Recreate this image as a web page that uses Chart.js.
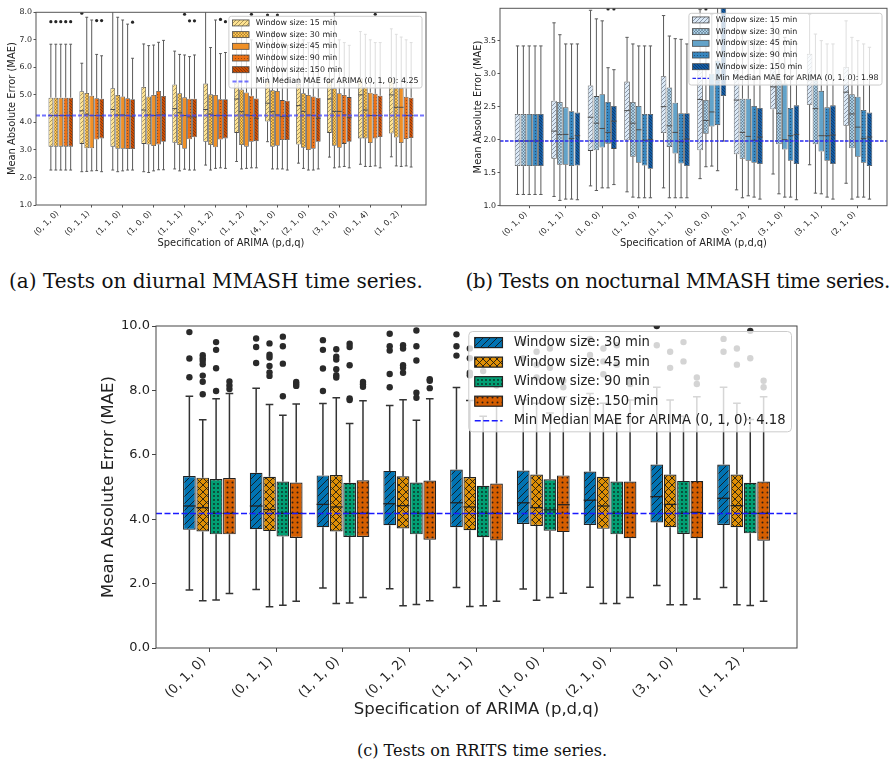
<!DOCTYPE html>
<html>
<head>
<meta charset="utf-8">
<script src="https://cdn.jsdelivr.net/npm/chart.js@4.4.1/dist/chart.umd.min.js"></script>
<style>
	body { margin: 0; background: #fff; width: 892px; height: 765px; position: relative; overflow: hidden; }
	canvas { position: absolute; }
	.caption { position: absolute; font-family: "DejaVu Serif", serif; font-size: 20px; line-height: 1; color: #111; white-space: nowrap; }
</style>
</head>
<body>
<canvas id="diurnalChart" width="450" height="249" style="left:0;top:0"></canvas>
<canvas id="nocturnalChart" width="442" height="249" style="left:450px;top:0"></canvas>
<canvas id="rritsChart" width="892" height="410" style="left:0;top:310px"></canvas>
<div class="caption" style="left:216px;top:271px;transform:translateX(-50%)">(a) Tests on diurnal MMASH time series.</div>
<div class="caption" style="right:2px;top:271px;letter-spacing:-0.37px">(b) Tests on nocturnal MMASH time series.</div>
<div class="caption" style="left:482px;top:743px;font-size:16px;transform:translateX(-50%)">(c) Tests on RRITS time series.</div>
<script>
// (a) diurnal MMASH: rows = ARIMA spec, columns = window size
const diurnalSpecs = ["(0, 1, 0)", "(0, 1, 1)", "(1, 1, 0)", "(1, 0, 0)", "(1, 1, 1)", "(0, 1, 2)", "(1, 1, 2)", "(4, 1, 0)", "(2, 1, 0)", "(3, 1, 0)", "(0, 1, 4)", "(1, 0, 2)"];
const diurnalWindows = ["15 min", "30 min", "45 min", "90 min", "150 min"];
const diurnalQ1 = [
	[3.12, 3.12, 3.12, 3.12, 3.12],
	[3.22, 3.06, 3.06, 3.38, 3.42],
	[3.12, 3.04, 3.04, 3.03, 3.03],
	[3.22, 3.2, 3.14, 3.2, 3.3],
	[3.26, 3.18, 3.04, 3.39, 3.46],
	[3.3, 3.18, 3.1, 3.38, 3.42],
	[3.62, 3.18, 3.12, 3.3, 3.32],
	[4.03, 3.12, 3.15, 3.36, 3.36],
	[3.2, 3.08, 3.0, 3.04, 3.3],
	[3.62, 3.15, 3.08, 3.22, 3.3],
	[3.42, 3.42, 3.25, 3.42, 3.47],
	[3.6, 3.45, 3.25, 3.4, 3.43],
];
const diurnalMedian = [
	[4.25, 4.25, 4.25, 4.25, 4.25],
	[4.42, 4.3, 4.25, 4.25, 4.25],
	[4.47, 4.27, 4.27, 4.25, 4.23],
	[4.45, 4.27, 4.25, 4.27, 4.27],
	[4.5, 4.35, 4.25, 4.2, 4.2],
	[4.47, 4.3, 4.25, 4.25, 4.25],
	[4.85, 4.39, 4.27, 4.25, 4.15],
	[4.7, 4.39, 4.27, 4.21, 4.23],
	[4.61, 4.4, 4.27, 4.25, 4.15],
	[4.85, 4.4, 4.4, 4.27, 4.17],
	[5.0, 4.45, 4.25, 4.25, 4.25],
	[5.0, 4.55, 4.55, 4.25, 4.25],
];
const diurnalQ3 = [
	[4.9, 4.9, 4.9, 4.9, 4.9],
	[5.13, 5.07, 4.97, 4.88, 4.86],
	[5.24, 5.0, 4.94, 4.88, 4.84],
	[5.29, 4.94, 5.0, 5.14, 4.96],
	[5.38, 5.06, 4.91, 4.86, 4.86],
	[5.41, 5.02, 5.0, 4.84, 4.84],
	[5.45, 5.2, 5.09, 4.97, 4.87],
	[5.5, 5.17, 5.14, 4.81, 4.79],
	[5.4, 5.06, 5.0, 4.94, 4.9],
	[5.5, 5.24, 5.06, 5.0, 4.92],
	[5.6, 5.3, 5.08, 5.04, 4.97],
	[5.6, 5.25, 5.25, 4.93, 4.9],
];
const diurnalLow = [
	[2.27, 2.27, 2.27, 2.27, 2.27],
	[2.21, 2.22, 2.24, 2.25, 2.21],
	[2.27, 2.21, 2.24, 2.27, 2.27],
	[2.21, 2.18, 2.24, 2.28, 2.28],
	[2.31, 2.24, 2.3, 2.27, 2.27],
	[2.45, 2.27, 2.33, 2.35, 2.33],
	[2.58, 2.31, 2.33, 2.35, 2.35],
	[3.3, 2.31, 2.31, 2.31, 2.27],
	[2.52, 2.33, 2.27, 2.27, 2.31],
	[2.74, 2.35, 2.38, 2.4, 2.35],
	[2.48, 2.4, 2.4, 2.42, 2.35],
	[2.75, 2.42, 2.4, 2.42, 2.38],
];
const diurnalHigh = [
	[6.84, 6.84, 6.84, 6.84, 6.84],
	[6.15, 7.82, 7.72, 6.47, 6.42],
	[8.3, 7.82, 7.72, 7.57, 6.33],
	[6.85, 6.79, 6.81, 6.91, 6.98],
	[6.59, 6.47, 6.45, 6.39, 6.45],
	[8.3, 6.72, 7.72, 6.5, 6.54],
	[7.3, 7.5, 7.1, 7.0, 6.9],
	[7.0, 7.3, 7.2, 6.9, 6.8],
	[7.2, 7.0, 6.9, 6.8, 6.7],
	[7.2, 7.98, 7.0, 6.9, 6.8],
	[7.3, 7.2, 7.0, 6.9, 6.9],
	[7.4, 7.2, 7.1, 7.0, 6.9],
];
const diurnalOutliers = [
	[[7.66], [7.66], [7.66], [7.66], [7.66]],
	[[7.97], [], [], [7.7], [7.7]],
	[[], [], [], [], [7.64]],
	[[], [], [], [], []],
	[[], [], [7.93], [7.69], [7.69]],
	[[], [], [], [7.74], [7.66]],
	[[], [], [], [7.93], []],
	[[7.9], [], [7.9], [], []],
	[[], [], [], [], []],
	[[], [], [], [], []],
	[[], [], [], [7.93], []],
	[[], [], [], [], []],
];
const diurnalMinMedian = 4.25;

// (b) nocturnal MMASH
const nocturnalSpecs = ["(0, 1, 0)", "(0, 1, 1)", "(1, 0, 0)", "(1, 1, 0)", "(1, 1, 1)", "(0, 0, 0)", "(0, 1, 2)", "(3, 1, 0)", "(3, 1, 1)", "(2, 1, 0)"];
const nocturnalWindows = ["15 min", "30 min", "45 min", "90 min", "150 min"];
const nocturnalQ1 = [
	[1.6, 1.6, 1.6, 1.6, 1.6],
	[1.71, 1.62, 1.62, 1.6, 1.61],
	[1.83, 1.84, 1.88, 1.94, 1.86],
	[1.99, 1.74, 1.65, 1.61, 1.56],
	[2.1, 1.89, 1.79, 1.64, 1.6],
	[1.84, 2.09, 2.2, 2.22, 2.66],
	[1.78, 1.71, 1.68, 1.65, 1.63],
	[2.46, 1.93, 1.85, 1.68, 1.63],
	[2.53, 1.93, 1.82, 1.68, 1.63],
	[2.21, 1.87, 1.74, 1.65, 1.6],
];
const nocturnalMedian = [
	[1.98, 1.98, 1.98, 1.98, 1.98],
	[2.13, 2.08, 2.08, 2.02, 2.06],
	[2.34, 2.25, 2.17, 2.11, 2.28],
	[2.44, 2.25, 2.15, 1.99, 2.0],
	[2.5, 2.21, 2.11, 1.97, 2.01],
	[2.61, 2.29, 2.42, 2.9, 3.3],
	[2.6, 2.11, 2.05, 1.99, 2.04],
	[2.8, 2.4, 2.0, 2.06, 2.08],
	[2.9, 2.47, 2.06, 2.06, 2.07],
	[2.72, 2.39, 2.19, 2.02, 2.04],
];
const nocturnalQ3 = [
	[2.39, 2.39, 2.39, 2.39, 2.39],
	[2.59, 2.57, 2.49, 2.43, 2.41],
	[2.82, 2.66, 2.69, 2.57, 2.51],
	[2.88, 2.57, 2.51, 2.39, 2.39],
	[2.96, 2.79, 2.56, 2.4, 2.4],
	[3.15, 2.6, 3.0, 3.2, 4.3],
	[3.05, 2.62, 2.62, 2.51, 2.48],
	[3.1, 2.9, 2.85, 2.48, 2.52],
	[3.3, 2.9, 2.74, 2.49, 2.52],
	[3.1, 2.69, 2.65, 2.45, 2.41],
];
const nocturnalLow = [
	[1.17, 1.17, 1.17, 1.17, 1.17],
	[1.14, 1.08, 1.1, 1.1, 1.09],
	[1.3, 1.23, 1.27, 1.27, 1.32],
	[1.21, 1.13, 1.12, 1.12, 1.12],
	[1.27, 1.12, 1.12, 1.12, 1.12],
	[1.41, 1.59, 1.6, 1.53, 1.98],
	[1.24, 1.12, 1.15, 1.13, 1.1],
	[1.48, 1.18, 1.13, 1.13, 1.09],
	[1.62, 1.19, 1.18, 1.13, 1.1],
	[1.34, 1.1, 1.13, 1.13, 1.1],
];
const nocturnalHigh = [
	[3.42, 3.42, 3.42, 3.42, 3.42],
	[3.77, 3.59, 3.45, 3.45, 3.45],
	[3.96, 3.83, 3.8, 3.09, 3.06],
	[3.55, 3.45, 3.42, 3.42, 3.42],
	[3.88, 3.57, 3.53, 3.52, 3.45],
	[3.97, 3.5, 3.9, 4.3, 4.5],
	[3.8, 3.6, 3.5, 3.5, 3.45],
	[3.8, 3.6, 3.55, 3.45, 3.45],
	[3.9, 3.6, 3.5, 3.45, 3.45],
	[3.8, 3.55, 3.5, 3.45, 3.4],
];
const nocturnalOutliers = [
	[[], [], [], [], []],
	[[], [], [], [], []],
	[[], [], [], [3.98], [3.98]],
	[[], [], [], [], []],
	[[], [], [], [], []],
	[[], [3.98], [], [], []],
	[[], [], [], [], []],
	[[], [], [], [], []],
	[[], [], [], [], []],
	[[], [], [], [], []],
];
const nocturnalMinMedian = 1.98;

// (c) RRITS
const rritsSpecs = ["(0, 1, 0)", "(0, 1, 1)", "(1, 1, 0)", "(0, 1, 2)", "(1, 1, 1)", "(1, 0, 0)", "(2, 1, 0)", "(3, 1, 0)", "(1, 1, 2)"];
const rritsWindows = ["30 min", "45 min", "90 min", "150 min"];
const rritsQ1 = [
	[3.67, 3.62, 3.53, 3.53],
	[3.69, 3.63, 3.46, 3.42],
	[3.75, 3.62, 3.45, 3.45],
	[3.81, 3.71, 3.53, 3.36],
	[3.75, 3.66, 3.44, 3.34],
	[3.85, 3.79, 3.64, 3.6],
	[3.82, 3.7, 3.53, 3.41],
	[3.9, 3.75, 3.54, 3.41],
	[3.82, 3.75, 3.56, 3.33],
];
const rritsMedian = [
	[4.41, 4.36, 4.18, 4.18],
	[4.41, 4.3, 4.18, 4.18],
	[4.46, 4.38, 4.18, 4.18],
	[4.48, 4.42, 4.18, 4.18],
	[4.51, 4.38, 4.18, 4.18],
	[4.51, 4.36, 4.29, 4.45],
	[4.59, 4.41, 4.18, 4.18],
	[4.7, 4.46, 4.18, 4.21],
	[4.65, 4.42, 4.18, 4.18],
];
const rritsQ3 = [
	[5.34, 5.29, 5.25, 5.28],
	[5.44, 5.32, 5.17, 5.14],
	[5.36, 5.37, 5.13, 5.21],
	[5.5, 5.33, 5.14, 5.2],
	[5.54, 5.31, 5.04, 5.11],
	[5.51, 5.39, 5.24, 5.36],
	[5.48, 5.32, 5.17, 5.17],
	[5.7, 5.39, 5.19, 5.19],
	[5.7, 5.39, 5.13, 5.17],
];
const rritsLow = [
	[1.8, 1.47, 1.49, 1.69],
	[1.82, 1.28, 1.33, 1.45],
	[1.86, 1.38, 1.4, 1.57],
	[1.84, 1.31, 1.35, 1.47],
	[1.88, 1.29, 1.31, 1.45],
	[1.83, 1.48, 1.57, 1.7],
	[1.89, 1.38, 1.38, 1.57],
	[1.94, 1.34, 1.34, 1.52],
	[1.88, 1.34, 1.32, 1.45],
];
const rritsHigh = [
	[7.82, 7.09, 7.74, 7.9],
	[8.07, 7.56, 7.23, 7.58],
	[7.59, 7.77, 6.97, 7.68],
	[7.53, 7.71, 7.07, 7.74],
	[8.09, 7.69, 7.2, 7.6],
	[7.7, 7.6, 7.3, 7.8],
	[7.9, 7.6, 7.1, 7.7],
	[8.1, 7.7, 7.2, 7.8],
	[8.1, 7.6, 7.1, 7.8],
];
const rritsOutliers = [
	[[9.81, 8.99, 8.41], [9.09, 9.0, 8.92, 8.81, 8.46, 8.27, 7.88], [9.5, 9.26, 8.69, 7.98], [8.28, 8.15, 8.04]],
	[[9.61, 9.35, 8.85], [9.46, 9.11, 9.02, 8.76, 8.56, 8.45], [9.67, 9.37, 8.83, 7.82], [8.26, 8.2, 8.14]],
	[[9.56, 9.26, 8.68, 7.98], [9.28, 9.05, 8.96, 8.66, 8.47, 8.4], [9.45, 9.35, 8.78, 7.75, 7.7], [8.26, 8.19, 8.11]],
	[[9.76, 9.37, 9.24, 8.51, 8.1], [9.4, 9.3, 8.78, 8.7, 8.55], [9.86, 9.37, 8.93, 7.93, 7.77], [8.35, 8.3, 8.07]],
	[[9.74, 9.37, 9.08], [9.3, 9.0, 8.55, 8.47], [9.4, 8.9, 8.6], [8.25, 8.15]],
	[[9.5, 9.0], [9.2, 8.8, 8.4], [9.3, 8.7], [8.3, 8.1]],
	[[9.6, 9.1], [9.3, 8.9, 8.5], [9.4, 8.8], [8.3, 8.2]],
	[[10.0, 9.4], [9.2, 8.7], [9.5, 8.9], [8.4, 8.2]],
	[[9.6, 9.2], [9.3, 8.8], [9.85, 9.0], [8.3, 8.1]],
];
const rritsMinMedian = 4.18;

Chart.defaults.font.family = "DejaVu Sans";

function makePattern(color, hatch, ink) {
	const s = hatch.size;
	const c = document.createElement("canvas");
	c.width = s;
	c.height = s;
	const g = c.getContext("2d");
	g.fillStyle = color;
	g.fillRect(0, 0, s, s);
	g.strokeStyle = ink;
	g.fillStyle = ink;
	g.lineWidth = hatch.lw;
	const diag = (up) => {
		g.beginPath();
		for (const o of [-s, 0, s]) {
			if (up) {
				g.moveTo(o, s);
				g.lineTo(o + s, 0);
			} else {
				g.moveTo(o, 0);
				g.lineTo(o + s, s);
			}
		}
		g.stroke();
	};
	if (hatch.type === "/" || hatch.type === "x") diag(true);
	if (hatch.type === "\\" || hatch.type === "x") diag(false);
	if (hatch.type === ".") {
		g.beginPath();
		g.arc(s / 2, s / 2, hatch.lw, 0, Math.PI * 2);
		g.fill();
	}
	return g.createPattern(c, "repeat");
}

function drawLegend(chart, p) {
	const { ctx, chartArea: area } = chart;
	const f = p.legendSize;
	const labels = p.windows.map((w) => "Window size: " + w);
	labels.push("Min Median MAE for ARIMA (0, 1, 0): " + p.minMedian.toFixed(2));
	ctx.save();
	ctx.font = f + 'px "DejaVu Sans"';
	const textW = Math.max(...labels.map((t) => ctx.measureText(t).width));
	const pad = f * 0.45;
	const patchW = f * 2.1;
	const gap = f * 0.85;
	const step = f * 1.48;
	const w = pad * 2 + patchW + gap + textW;
	const h = step * labels.length + f * 0.2;
	const x0 = area.right - p.legendInset - w;
	const y0 = area.top + p.legendInset;
	ctx.fillStyle = "rgba(255,255,255,0.8)";
	ctx.strokeStyle = "#cccccc";
	ctx.lineWidth = 1;
	ctx.beginPath();
	ctx.roundRect(x0, y0, w, h, f * 0.3);
	ctx.fill();
	ctx.stroke();
	labels.forEach((t, k) => {
		const cy = y0 + f * 0.1 + step * (k + 0.5);
		const px = x0 + pad;
		if (k < p.windows.length) {
			ctx.fillStyle = p.patterns[k];
			ctx.fillRect(px, cy - f * 0.38, patchW, f * 0.76);
			ctx.strokeStyle = p.edge;
			ctx.lineWidth = p.edgeWidth;
			ctx.strokeRect(px, cy - f * 0.38, patchW, f * 0.76);
		} else {
			ctx.strokeStyle = p.refColor;
			ctx.lineWidth = p.refWidth;
			ctx.setLineDash(p.refDash);
			ctx.beginPath();
			ctx.moveTo(px, cy);
			ctx.lineTo(px + patchW, cy);
			ctx.stroke();
			ctx.setLineDash([]);
		}
		ctx.fillStyle = "#222";
		ctx.textBaseline = "middle";
		ctx.textAlign = "left";
		ctx.fillText(t, px + patchW + gap, cy);
	});
	ctx.restore();
}

// whiskers, caps, medians, fliers, reference line, frame and legend
function boxPlugin(p) {
	return {
		id: "boxExtras",
		afterDatasetsDraw(chart) {
			const { ctx, chartArea: area } = chart;
			const y = chart.scales.y;
			ctx.save();
			ctx.beginPath();
			ctx.rect(area.left, area.top, area.right - area.left, area.bottom - area.top);
			ctx.clip();
			p.windows.forEach((w, d) => {
				chart.getDatasetMeta(d).data.forEach((bar, i) => {
					const x = bar.x;
					const half = bar.width / 2;
					const cap = half * p.capRatio;
					const yQ1 = y.getPixelForValue(p.q1[i][d]);
					const yQ3 = y.getPixelForValue(p.q3[i][d]);
					const yLo = y.getPixelForValue(p.low[i][d]);
					const yHi = y.getPixelForValue(p.high[i][d]);
					const yMed = y.getPixelForValue(p.median[i][d]);
					ctx.strokeStyle = p.whisker;
					ctx.lineWidth = p.whiskerWidth;
					ctx.beginPath();
					ctx.moveTo(x, yQ1);
					ctx.lineTo(x, yLo);
					ctx.moveTo(x, yQ3);
					ctx.lineTo(x, yHi);
					ctx.moveTo(x - cap, yLo);
					ctx.lineTo(x + cap, yLo);
					ctx.moveTo(x - cap, yHi);
					ctx.lineTo(x + cap, yHi);
					ctx.stroke();
					ctx.strokeStyle = p.edge;
					ctx.lineWidth = p.medianWidth;
					ctx.beginPath();
					ctx.moveTo(x - half, yMed);
					ctx.lineTo(x + half, yMed);
					ctx.stroke();
					ctx.fillStyle = p.flier;
					p.outliers[i][d].forEach((v) => {
						ctx.beginPath();
						ctx.arc(x, y.getPixelForValue(v), p.flierRadius, 0, Math.PI * 2);
						ctx.fill();
					});
				});
			});
			const yRef = y.getPixelForValue(p.minMedian);
			ctx.strokeStyle = p.refColor;
			ctx.lineWidth = p.refWidth;
			ctx.setLineDash(p.refDash);
			ctx.beginPath();
			ctx.moveTo(area.left, yRef);
			ctx.lineTo(area.right, yRef);
			ctx.stroke();
			ctx.restore();

			ctx.save();
			ctx.strokeStyle = p.frame;
			ctx.lineWidth = p.frameWidth;
			ctx.strokeRect(area.left, area.top, area.right - area.left, area.bottom - area.top);
			ctx.restore();
			drawLegend(chart, p);
		},
	};
}

function buildPanel(p) {
	p.patterns = p.colors.map((c, d) => makePattern(c, p.hatches[d], p.ink));
	const n = p.specs.length;
	const datasets = p.windows.map((w, d) => ({
		label: "Window size: " + w,
		data: p.specs.map((s, i) => ({ x: i, y: [p.q1[i][d], p.q3[i][d]] })),
		backgroundColor: p.patterns[d],
		borderColor: p.edge,
		borderWidth: p.edgeWidth,
		borderSkipped: false,
		categoryPercentage: 0.8,
		barPercentage: 0.95,
	}));
	const tickFont = { family: "DejaVu Sans", size: p.tickSize };
	const titleFont = { family: "DejaVu Sans", size: p.titleSize };
	new Chart(document.getElementById(p.canvas).getContext("2d"), {
		type: "bar",
		data: { datasets },
		options: {
			responsive: false,
			animation: false,
			devicePixelRatio: 1,
			layout: { padding: p.padding },
			plugins: { legend: { display: false }, tooltip: { enabled: false } },
			scales: {
				x: {
					type: "linear",
					min: -0.8,
					max: n - 0.2,
					offset: false,
					afterFit: (s) => {
						s.height = p.xAxisHeight;
					},
					border: { display: false },
					grid: { drawOnChartArea: false, tickLength: p.tickLen, color: p.frame, offset: false },
					ticks: {
						stepSize: 1,
						includeBounds: false,
						autoSkip: false,
						minRotation: 45,
						maxRotation: 45,
						padding: p.tickPad,
						labelOffset: p.labelShift,
						color: "#222",
						font: tickFont,
						callback: (v) => p.specs[v],
					},
					title: { display: true, text: "Specification of ARIMA (p,d,q)", color: "#222", font: titleFont, padding: 0 },
				},
				y: {
					min: p.yMin,
					max: p.yMax,
					afterFit: (s) => {
						s.width = p.yAxisWidth;
					},
					border: { display: false },
					grid: { drawOnChartArea: false, tickLength: p.tickLen, color: p.frame },
					ticks: {
						stepSize: p.yStep,
						includeBounds: false,
						padding: p.tickPad,
						color: "#222",
						font: tickFont,
						callback: (v) => v.toFixed(1),
					},
					title: { display: true, text: "Mean Absolute Error (MAE)", color: "#222", font: titleFont, padding: 0 },
				},
			},
		},
		plugins: [boxPlugin(p)],
	});
}

const smallHatches = [
	{ type: "/", size: 4, lw: 0.7 },
	{ type: "x", size: 3, lw: 0.5 },
	{ type: ".", size: 2, lw: 0.45 },
	{ type: ".", size: 3, lw: 0.6 },
	{ type: "\\", size: 3, lw: 0.8 },
];

buildPanel({
	canvas: "diurnalChart",
	specs: diurnalSpecs,
	windows: diurnalWindows,
	q1: diurnalQ1,
	median: diurnalMedian,
	q3: diurnalQ3,
	low: diurnalLow,
	high: diurnalHigh,
	outliers: diurnalOutliers,
	minMedian: diurnalMinMedian,
	yMin: 1,
	yMax: 8,
	yStep: 1,
	colors: ["#fee391", "#fec44f", "#fe9929", "#ec7014", "#cc4c02"],
	hatches: smallHatches,
	ink: "rgba(60,40,20,0.6)",
	padding: { left: 6.35, top: 12.3, right: 24, bottom: 0 },
	yAxisWidth: 29.65,
	xAxisHeight: 44,
	tickSize: 7.9,
	titleSize: 9.9,
	legendSize: 7.9,
	legendInset: 4,
	tickLen: 2.5,
	tickPad: 1.5,
	labelShift: -3.2,
	edge: "#4a4a4a",
	edgeWidth: 0.8,
	whisker: "#5a5a5a",
	whiskerWidth: 1,
	medianWidth: 1,
	capRatio: 0.6,
	flier: "#262626",
	flierRadius: 1.6,
	refColor: "rgba(70,70,255,0.75)",
	refWidth: 2,
	refDash: [4, 2],
	frame: "#555",
	frameWidth: 1,
});

buildPanel({
	canvas: "nocturnalChart",
	specs: nocturnalSpecs,
	windows: nocturnalWindows,
	q1: nocturnalQ1,
	median: nocturnalMedian,
	q3: nocturnalQ3,
	low: nocturnalLow,
	high: nocturnalHigh,
	outliers: nocturnalOutliers,
	minMedian: nocturnalMinMedian,
	yMin: 1,
	yMax: 3.99,
	yStep: 0.5,
	colors: ["#dbe9f6", "#abd0e6", "#6aaed6", "#3787c0", "#105ba4"],
	hatches: smallHatches,
	ink: "rgba(20,30,50,0.6)",
	padding: { left: 22.35, top: 8.3, right: 5, bottom: 0 },
	yAxisWidth: 27.65,
	xAxisHeight: 43.3,
	tickSize: 7.9,
	titleSize: 9.9,
	legendSize: 7.9,
	legendInset: 5,
	tickLen: 2.5,
	tickPad: 1.5,
	labelShift: -3.2,
	edge: "#4a4a4a",
	edgeWidth: 0.8,
	whisker: "#5a5a5a",
	whiskerWidth: 1,
	medianWidth: 1,
	capRatio: 0.6,
	flier: "#262626",
	flierRadius: 1.6,
	refColor: "#2a2af0",
	refWidth: 1.3,
	refDash: [3.5, 1.5],
	frame: "#555",
	frameWidth: 1,
});

buildPanel({
	canvas: "rritsChart",
	specs: rritsSpecs,
	windows: rritsWindows,
	q1: rritsQ1,
	median: rritsMedian,
	q3: rritsQ3,
	low: rritsLow,
	high: rritsHigh,
	outliers: rritsOutliers,
	minMedian: rritsMinMedian,
	yMin: 0,
	yMax: 10,
	yStep: 2,
	colors: ["#0173b2", "#de8f05", "#029e73", "#d55e00"],
	hatches: [
		{ type: "/", size: 7, lw: 1 },
		{ type: "x", size: 7, lw: 1 },
		{ type: ".", size: 4, lw: 0.9 },
		{ type: ".", size: 5, lw: 1 },
	],
	ink: "rgba(20,20,20,0.85)",
	padding: { left: 99.1, top: 16, right: 95, bottom: 0 },
	yAxisWidth: 56.9,
	xAxisHeight: 72,
	tickSize: 13,
	titleSize: 16.5,
	legendSize: 13.2,
	legendInset: 5.5,
	tickLen: 4,
	tickPad: 2,
	labelShift: -5.5,
	edge: "#222",
	edgeWidth: 1.2,
	whisker: "#333",
	whiskerWidth: 1.5,
	medianWidth: 1.3,
	capRatio: 0.6,
	flier: "#2a2a2a",
	flierRadius: 3.2,
	refColor: "#1a1aff",
	refWidth: 1.5,
	refDash: [6, 2.5],
	frame: "#444",
	frameWidth: 1,
});
</script>
</body>
</html>
